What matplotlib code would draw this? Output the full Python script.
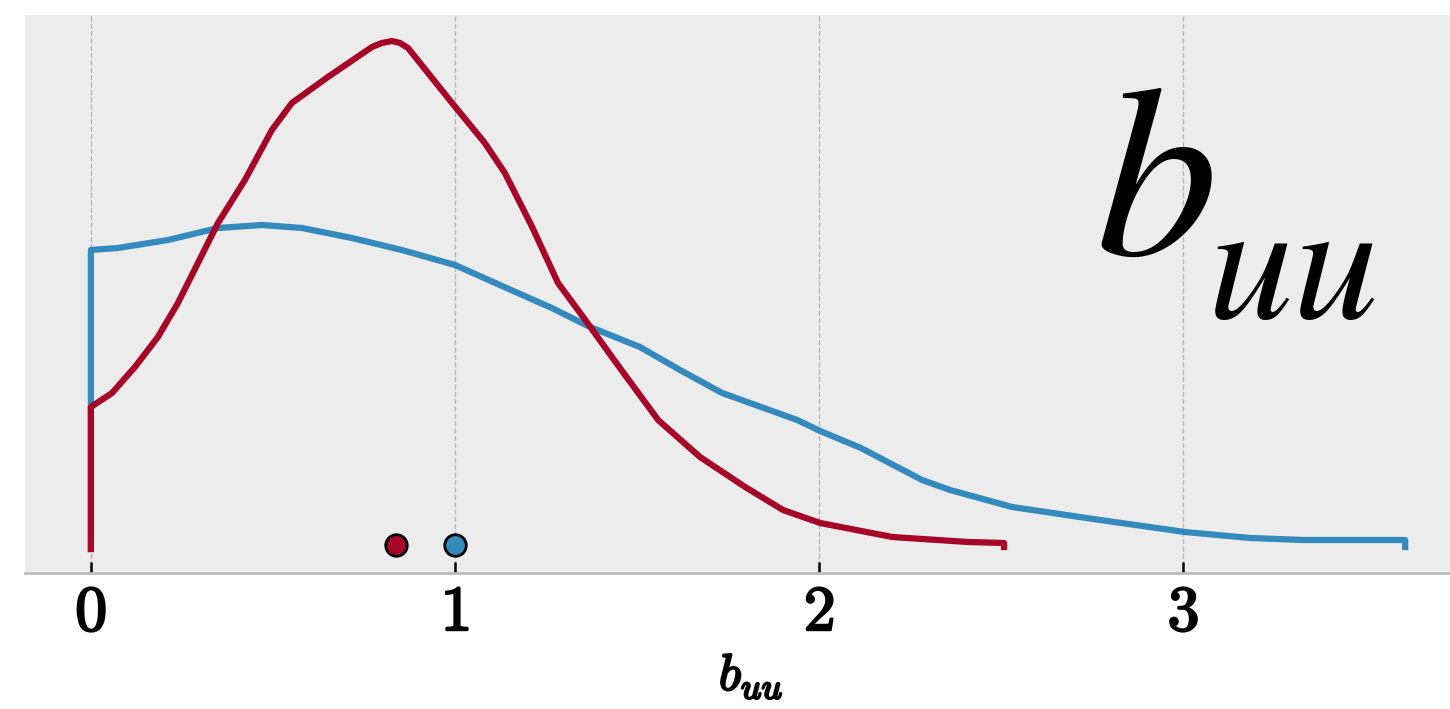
import matplotlib
matplotlib.use('Agg')
import matplotlib.pyplot as plt
import matplotlib.patheffects as pe
import numpy as np

plt.rcParams['mathtext.fontset'] = 'cm'

# red curve (density estimate)
red_x = [0.0, 0.0, 0.058, 0.121, 0.184, 0.239, 0.294, 0.349, 0.423, 0.497, 0.552,
         0.651, 0.772, 0.799, 0.827, 0.849, 0.871, 0.926, 0.992, 1.082, 1.137,
         1.212, 1.283, 1.352, 1.451, 1.558, 1.673, 1.797, 1.901, 2.003, 2.201,
         2.409, 2.508, 2.508]
red_y = [0.0, 0.284, 0.312, 0.364, 0.424, 0.492, 0.572, 0.652, 0.738, 0.838, 0.892,
         0.944, 1.004, 1.012, 1.016, 1.012, 1.002, 0.952, 0.892, 0.812, 0.752,
         0.644, 0.532, 0.464, 0.364, 0.258, 0.184, 0.124, 0.078, 0.052, 0.024,
         0.014, 0.012, 0.004]

# blue curve
blue_x = [0.0, 0.0, 0.074, 0.212, 0.349, 0.470, 0.580, 0.717, 0.854, 1.000, 1.154,
          1.266, 1.371, 1.508, 1.618, 1.734, 1.940, 2.003, 2.115, 2.283, 2.360,
          2.530, 2.772, 3.005, 3.184, 3.330, 3.610, 3.610]
blue_y = [0.0, 0.598, 0.602, 0.618, 0.642, 0.648, 0.642, 0.622, 0.598, 0.568, 0.518,
          0.482, 0.444, 0.404, 0.358, 0.312, 0.258, 0.236, 0.202, 0.138, 0.118,
          0.084, 0.058, 0.034, 0.022, 0.018, 0.018, 0.004]

# point estimates at the bottom
dot_x = [0.838, 1.0]
dot_y = [0.008, 0.008]
dot_colors = ['#a60628', '#348abd']

xticks = [0, 1, 2, 3]
xtick_labels = [r'$\mathbf{0}$', r'$\mathbf{1}$', r'$\mathbf{2}$', r'$\mathbf{3}$']

W, H = 1450, 709
fig = plt.figure(figsize=(W / 100, H / 100), dpi=100)
ax = fig.add_axes([25 / W, (H - 573) / H, 1425 / W, (573 - 15) / H])
ax.set_facecolor('#ececec')

ax.plot(blue_x, blue_y, color='#348abd', lw=4.5, zorder=3, solid_joinstyle='round')
ax.plot(red_x, red_y, color='#a60628', lw=4.5, zorder=4, solid_joinstyle='round')
for x, y, c in zip(dot_x, dot_y, dot_colors):
    ax.plot(x, y, 'o', color=c, markersize=15.5, markeredgecolor='black',
            markeredgewidth=2, zorder=5, clip_on=False)

ax.set_xlim(-0.181, 3.733)
ax.set_ylim(-0.048, 1.068)

ax.set_xticks(xticks)
ax.set_xticklabels(xtick_labels, fontsize=46)
for t in ax.get_xticklabels():
    t.set_path_effects([pe.withStroke(linewidth=1.6, foreground='black')])
ax.set_yticks([])
ax.tick_params(axis='x', direction='in', length=8, width=1.8, color='black', pad=6)
ax.grid(axis='x', linestyle='--', color='#b5b5b5', linewidth=1)
ax.set_axisbelow(True)

for s in ['left', 'right', 'top']:
    ax.spines[s].set_visible(False)
ax.spines['bottom'].set_color('#bcbcbc')
ax.spines['bottom'].set_linewidth(2)

lab = ax.set_xlabel(r'$b_{uu}$', fontsize=37)
lab.set_path_effects([pe.withStroke(linewidth=1.6, foreground='black')])
ax.xaxis.set_label_coords((751 - 25) / 1425, -0.14)

# big label in the corner
fig.text(1095 / W, (H - 255) / H, r'$b$', fontsize=176,
         math_fontfamily='stix', ha='left', va='baseline')
fig.text(1207 / W, (H - 318) / H, r'$uu$', fontsize=123,
         math_fontfamily='stix', ha='left', va='baseline')

fig.savefig('out.png', dpi=100)
